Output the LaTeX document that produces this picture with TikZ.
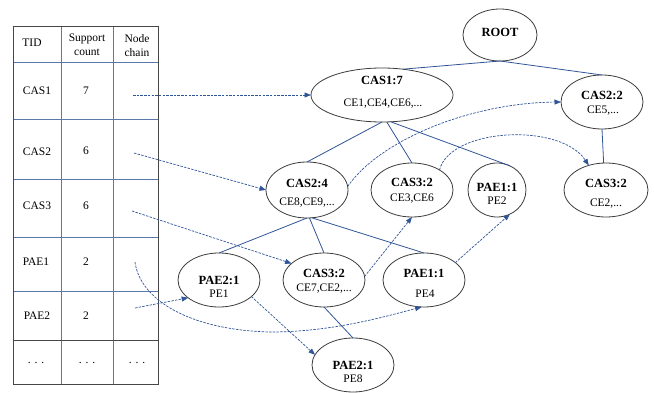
\documentclass[tikz,border=0pt]{standalone}
\usepackage{fontspec}
\setmainfont{Liberation Serif}
\usetikzlibrary{shapes.geometric,arrows.meta}
\definecolor{edgeblue}{RGB}{47,85,151}
\definecolor{ellgray}{RGB}{60,60,60}
\definecolor{tabgray}{RGB}{70,70,70}
\definecolor{tabblue}{RGB}{90,120,170}
\begin{document}
\begin{tikzpicture}[x=1pt,y=-1pt,
  ell/.style={ellipse, draw=ellgray, line width=0.8pt, inner sep=0pt, outer sep=0pt, fill=white},
  bt/.style={font=\fontsize{12.5}{14}\selectfont\bfseries, inner sep=0pt, text depth=0pt},
  nt/.style={font=\fontsize{11.5}{13}\selectfont, inner sep=0pt, text depth=0pt},
  tt/.style={font=\fontsize{11.5}{13}\selectfont, inner sep=0pt, text depth=0pt},
  tree/.style={draw=edgeblue, line width=0.8pt},
  chain/.style={draw=edgeblue, line width=0.7pt, dash pattern=on 2.5pt off 1.2pt, -{Triangle[length=6.5pt,width=5pt]}},
  tabin/.style={draw=tabblue, line width=0.9pt},
  tabout/.style={draw=tabgray, line width=0.9pt}
]
\useasboundingbox (0,0) rectangle (654,393);

% ---------- table ----------
\foreach \yy in {62,119,179,237,291} {\draw[tabin] (13,\yy) -- (158,\yy);}
\foreach \xx in {61,113} {\draw[tabin] (\xx,26) -- (\xx,384);}
\draw[tabout] (13,340) -- (158,340);
\draw[tabout] (13,26) rectangle (158,384);

\node[tt] (hTID) at (32,43) {TID};
\node[tt] (hSup1) at (87,38) {Support};
\node[tt] (hSup2) at (87,52) {count};
\node[tt] (hNode1) at (137,39) {Node};
\node[tt] (hNode2) at (137,53) {chain};
\node[tt] (r1a) at (37,91) {CAS1};  \node[tt] (r1b) at (86,91) {7};
\node[tt] (r2a) at (37,152) {CAS2}; \node[tt] (r2b) at (86,151) {6};
\node[tt] (r3a) at (37,206) {CAS3}; \node[tt] (r3b) at (86,206) {6};
\node[tt] (r4a) at (36,262) {PAE1}; \node[tt] (r4b) at (86,262) {2};
\node[tt] (r5a) at (37,316) {PAE2}; \node[tt] (r5b) at (86,316) {2};
\node[tt] (r6a) at (36,363) {. . .}; \node[tt] (r6b) at (87,363) {. . .}; \node[tt] (r6c) at (137,363) {. . .};

\coordinate (c1) at (133,95);
\coordinate (c2) at (134,153);
\coordinate (c3) at (132,211);
\coordinate (c4) at (135,262);
\coordinate (c5) at (135,308);

% ---------- ellipses ----------
\node[ell, minimum width=74pt, minimum height=52pt] (root) at (500,35) {};
\node[ell, minimum width=142pt, minimum height=54pt] (cas1) at (382,95) {};
\node[ell, minimum width=82pt, minimum height=54pt] (cas22) at (602,102) {};
\node[ell, minimum width=82pt, minimum height=56pt] (cas24) at (307,190) {};
\node[ell, minimum width=82pt, minimum height=54pt] (cas32m) at (412,190) {};
\node[ell, minimum width=58pt, minimum height=54pt] (pae1t) at (497,190) {};
\node[ell, minimum width=84pt, minimum height=54pt] (cas32r) at (606,190) {};
\node[ell, minimum width=82pt, minimum height=54pt] (pae2l) at (219,280) {};
\node[ell, minimum width=82pt, minimum height=54pt] (cas32b) at (324,280) {};
\node[ell, minimum width=82pt, minimum height=54pt] (pae1b) at (424,280) {};
\node[ell, minimum width=82pt, minimum height=54pt] (pae2b) at (353,365) {};

% ---------- tree edges ----------
\draw[tree] (root.south) -- (cas1.51);
\draw[tree] (root.south) -- (cas22.north);
\draw[tree] (cas22.south) -- (cas32r.95);
\draw[tree] (cas1.south) -- (cas24.north);
\draw[tree] (cas1.-80) -- (cas32m.north);
\draw[tree] (cas1.-72) -- (pae1t.62);
\draw[tree] (cas24.south) -- (pae2l.north);
\draw[tree] (cas24.-85) -- (cas32b.north);
\draw[tree] (cas24.-80) -- (pae1b.north);
\draw[tree] (cas32b.south) -- (pae2b.north);

% ---------- texts in ellipses ----------
\node[bt] (t-root) at (500,32) {ROOT};
\node[bt] (t-cas1a) at (382,80) {CAS1:7};
\node[nt] (t-cas1b) at (383,103) {CE1,CE4,CE6,...};
\node[bt] (t-cas22a) at (602,95) {CAS2:2};
\node[nt] (t-cas22b) at (603,110) {CE5,...};
\node[bt] (t-cas24a) at (307,183) {CAS2:4};
\node[nt] (t-cas24b) at (307,202) {CE8,CE9,...};
\node[bt] (t-cas32ma) at (412,182) {CAS3:2};
\node[nt] (t-cas32mb) at (412,198) {CE3,CE6};
\node[bt] (t-pae1ta) at (497,187) {PAE1:1};
\node[nt] (t-pae1tb) at (497,201) {PE2};
\node[bt] (t-cas32ra) at (606,183) {CAS3:2};
\node[nt] (t-cas32rb) at (606,203) {CE2,...};
\node[bt] (t-pae2la) at (219,280) {PAE2:1};
\node[nt] (t-pae2lb) at (219,294) {PE1};
\node[bt] (t-cas32ba) at (324,273) {CAS3:2};
\node[nt] (t-cas32bb) at (324,288) {CE7,CE2,...};
\node[bt] (t-pae1ba) at (424,273) {PAE1:1};
\node[nt] (t-pae1bb) at (425,294) {PE4};
\node[bt] (t-pae2ba) at (353,365) {PAE2:1};
\node[nt] (t-pae2bb) at (353,379) {PE8};

% ---------- node chains ----------
\draw[chain] (c1) -- (cas1.west);
\draw[chain] (c2) -- (cas24.west);
\draw[chain] (c3) -- (cas32b.153);
\draw[chain] (c4) .. controls (140,300) and (190,330) .. (270,332)
                  .. controls (330,332) and (380,318) .. (pae1b.-95);
\draw[chain] (c5) -- (pae2l.210);
\draw[chain] (cas24.5) .. controls (380,140) and (470,103) .. (cas22.west);
\draw[chain] (cas32m.36) .. controls (450,128) and (560,122) .. (cas32r.125);
\draw[chain] (cas32b.5) -- (cas32m.south);
\draw[chain] (pae1b.29) -- (pae1t.-62);
\draw[chain] (pae2l.-27) -- (pae2b.165);
\end{tikzpicture}
\end{document}
